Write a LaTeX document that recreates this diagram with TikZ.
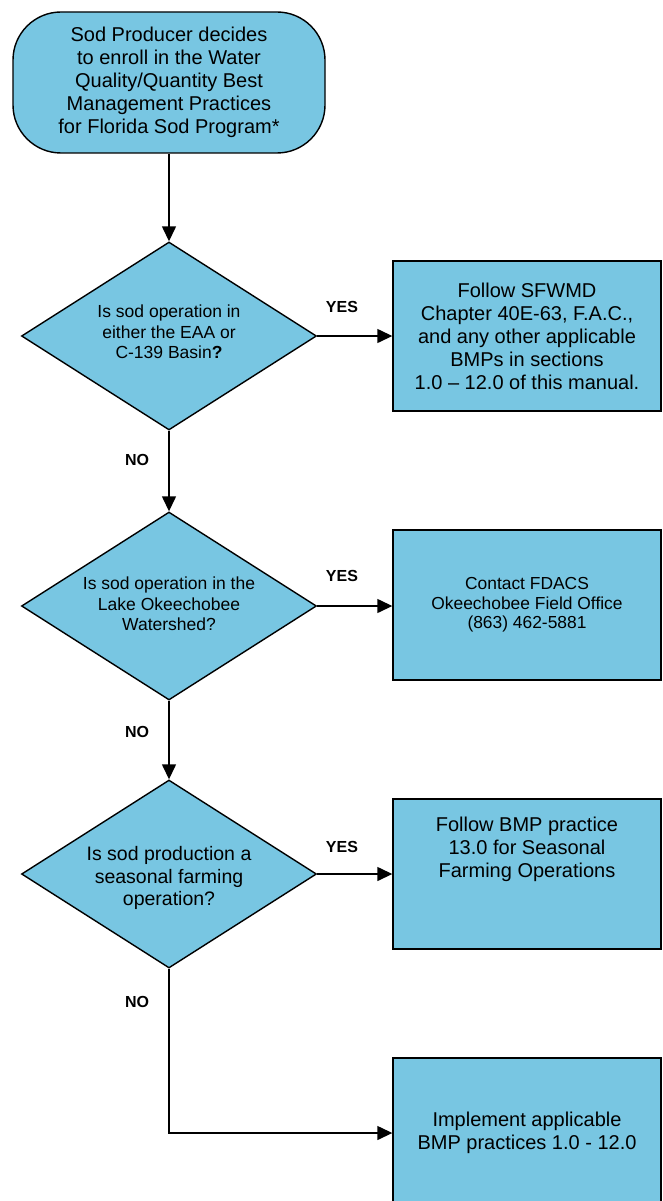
\documentclass[tikz,border=0pt]{standalone}
\usepackage{fontspec}
\setmainfont{Liberation Sans}
\usetikzlibrary{shapes.geometric,arrows.meta}
\definecolor{fillblue}{RGB}{120,198,226}
\begin{document}
\begin{tikzpicture}[x=1pt,y=-1pt,
 base/.style={draw=black, line width=1.4pt, fill=fillblue, align=center, text=black},
 startnode/.style={base, rectangle, rounded corners=48pt, minimum width=312pt, minimum height=141pt, inner sep=0pt, font=\fontsize{20}{23}\selectfont},
 decision/.style={base, diamond, minimum width=295pt, minimum height=188pt, inner sep=0pt},
 action/.style={base, rectangle, minimum width=268pt, minimum height=150pt, inner sep=0pt},
 qtext/.style={align=center, inner sep=0pt, font=\fontsize{17.5}{20.5}\selectfont},
 big/.style={font=\fontsize{20}{23}\selectfont},
 mid/.style={font=\fontsize{19.5}{22.5}\selectfont},
 small/.style={font=\fontsize{17.4}{19.5}\selectfont},
 lab/.style={font=\bfseries\fontsize{16}{18}\selectfont},
 conn/.style={line width=1.4pt, -{Triangle[length=15pt,width=14pt]}}
]
\useasboundingbox (0,0) rectangle (663,1201);
\node[startnode] (start) at (169,82.5) {Sod Producer decides\\to enroll in the Water\\Quality/Quantity Best\\Management Practices\\for Florida Sod Program*};
\node[decision] (d1) at (169,336) {};
\node[qtext] (d1t) at (169,332) {Is sod operation in\\either the EAA or\\C-139 Basin\textbf{?}};
\node[action,big] (b1) at (527,336) {Follow SFWMD\\Chapter 40E-63, F.A.C.,\\and any other applicable\\BMPs in sections\\1.0 – 12.0 of this manual.};
\node[decision] (d2) at (169,606) {};
\node[qtext] (d2t) at (169,604) {Is sod operation in the\\Lake Okeechobee\\Watershed?};
\node[action,small] (b2) at (527,605) {Contact FDACS\\Okeechobee Field Office\\(863) 462-5881};
\node[decision] (d3) at (169,874) {};
\node[qtext,mid] (d3t) at (169,878) {Is sod production a\\seasonal farming\\operation?};
\node[action] (b3) at (527,874) {};
\node[big,align=center] (b3t) at (527,849) {Follow BMP practice\\13.0 for Seasonal\\Farming Operations};
\node[action,big] (b4) at (527,1133) {Implement applicable\\BMP practices 1.0 - 12.0};
\node[lab] (y1) at (342,307) {YES};
\node[lab] (y2) at (342,576) {YES};
\node[lab] (y3) at (342,847) {YES};
\node[lab] (n1) at (137,460) {NO};
\node[lab] (n2) at (137,732) {NO};
\node[lab] (n3) at (137,1002) {NO};
\draw[conn] (start.south) -- (d1.north);
\draw[conn] (d1.east) -- (b1.west);
\draw[conn] (d1.south) -- (d2.north);
\draw[conn] (d2.east) -- (d2.east -| b2.west);
\draw[conn] (d2.south) -- (d3.north);
\draw[conn] (d3.east) -- (b3.west);
\draw[conn] (d3.south) |- (b4.west);
\end{tikzpicture}
\end{document}
